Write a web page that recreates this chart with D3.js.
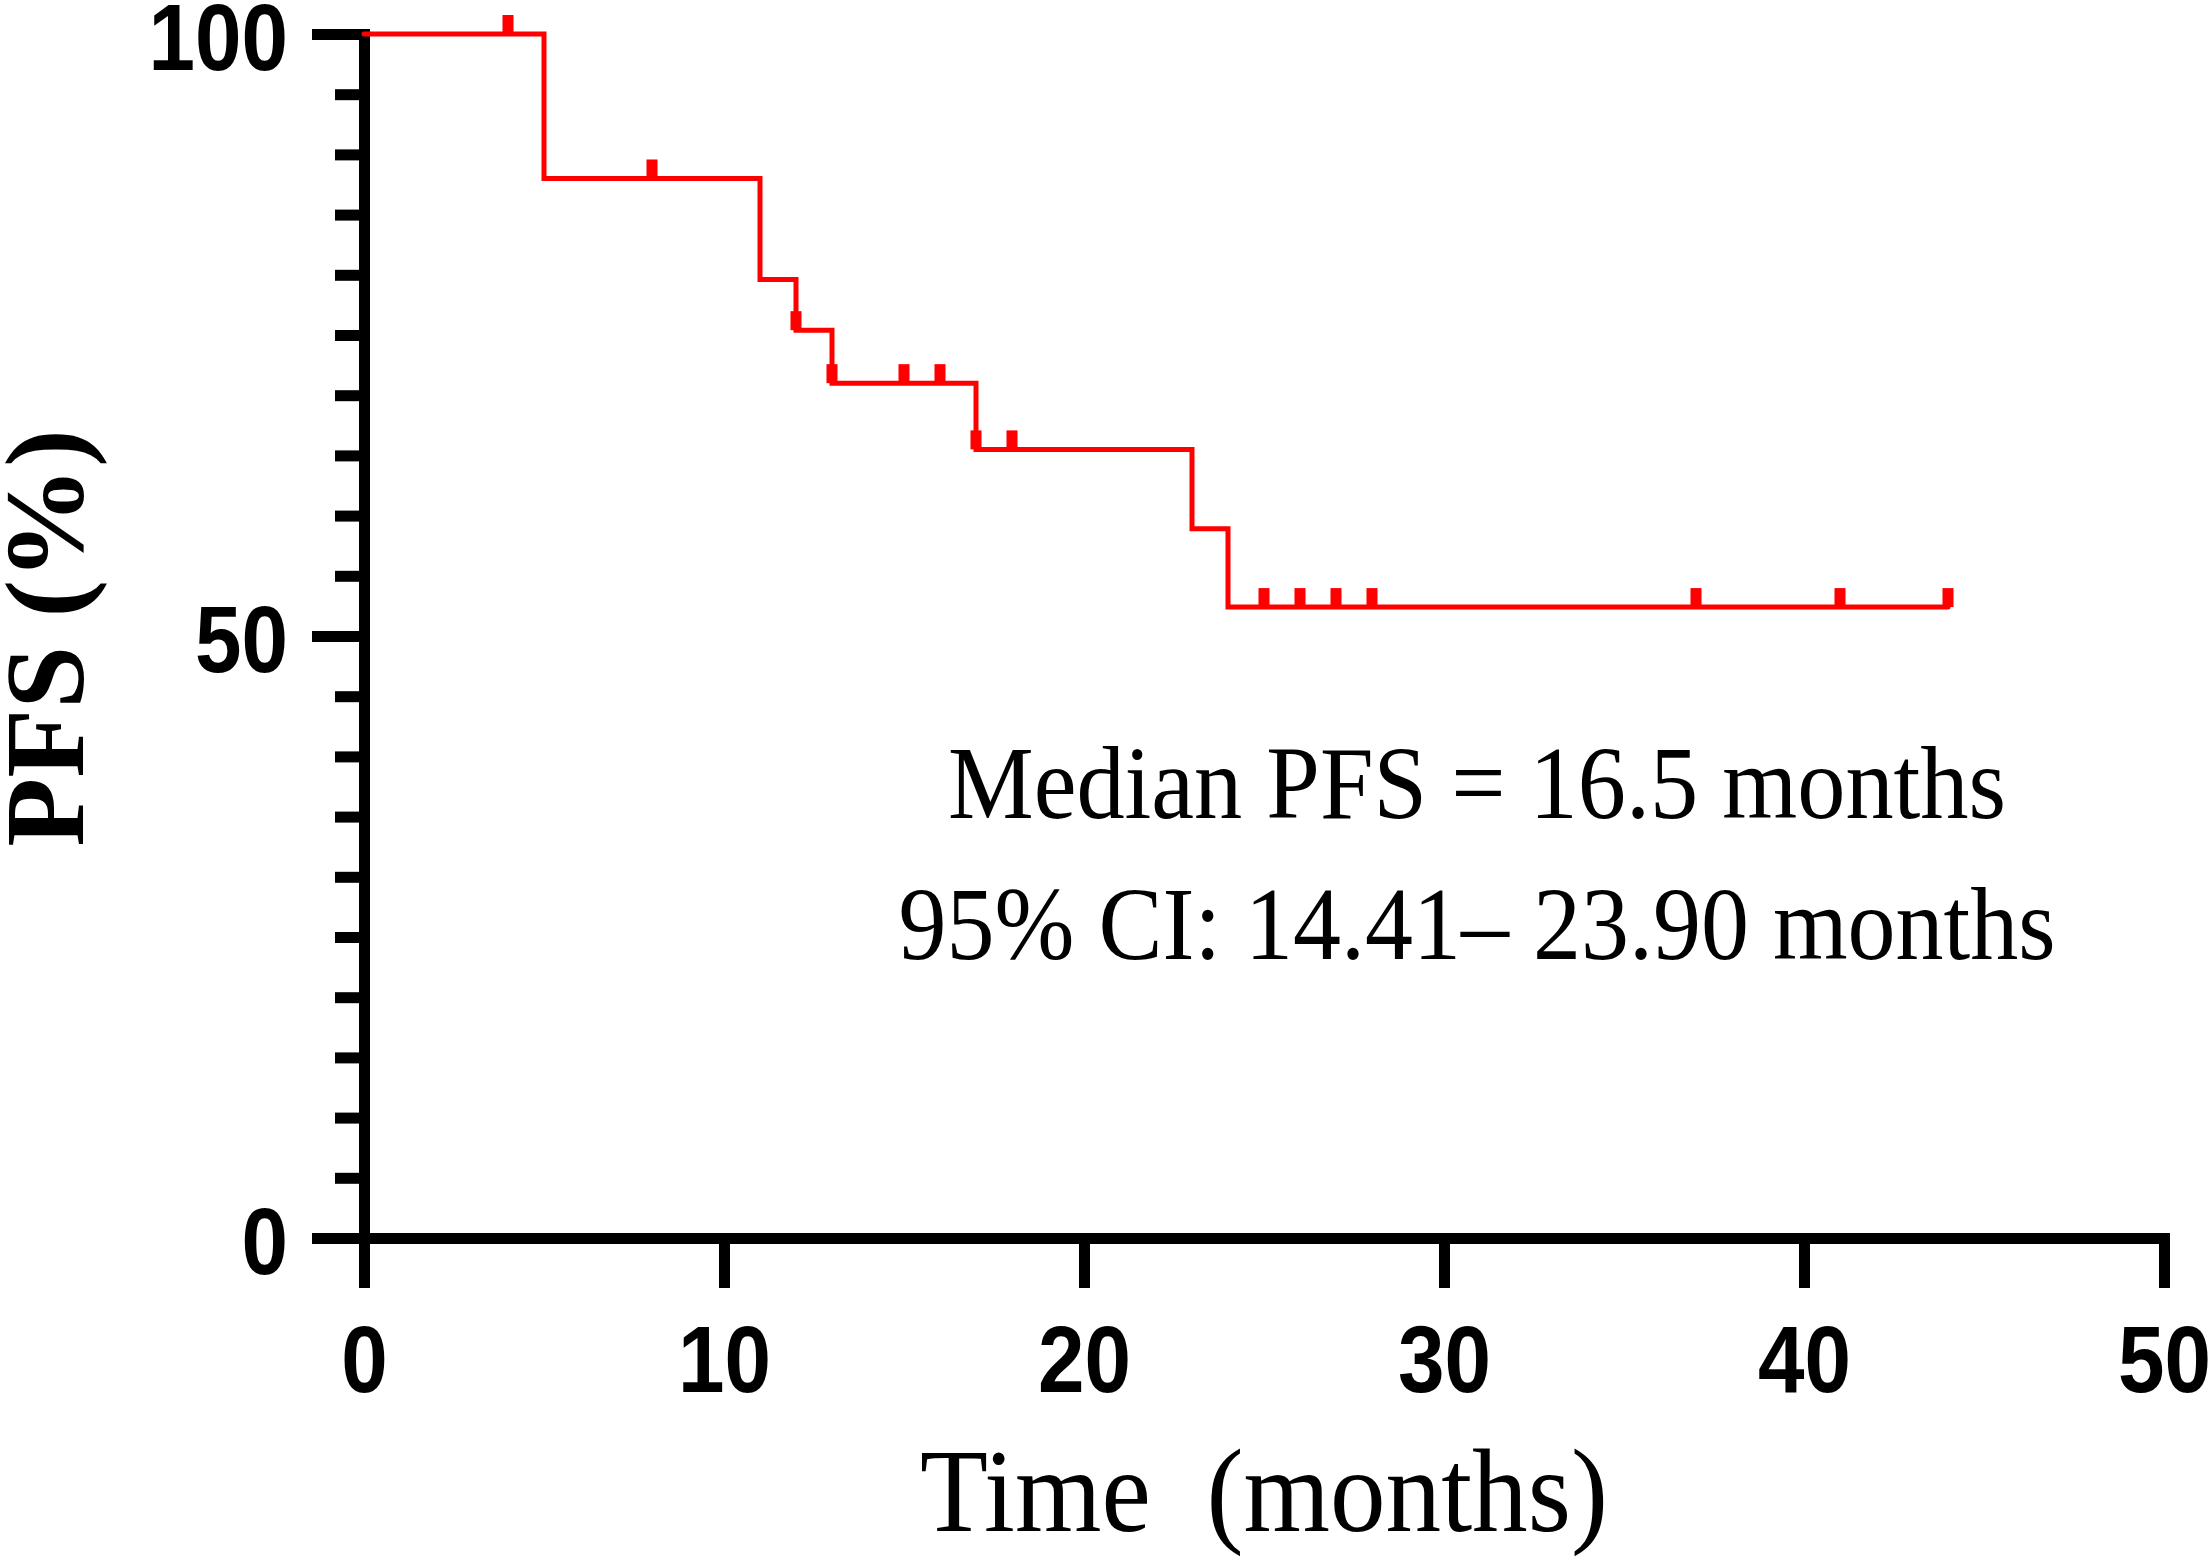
<!DOCTYPE html>
<html lang="en">
<head>
    <meta charset="UTF-8">
    <title>PFS Kaplan-Meier</title>
    <script src="https://d3js.org/d3.v7.min.js"></script>
    <style>
        body { margin: 0; background: white; }
        .axis path, .axis line { stroke: black; stroke-width: 11; }
        .axis path { stroke-linecap: square; }
        .axis text { font-family: "Liberation Sans", Arial, sans-serif; font-weight: bold; font-size: 95px; fill: black; }
        .serif { font-family: "Liberation Serif", "Times New Roman", serif; fill: black; }
    </style>
</head>
<body>
    <svg id="chart" width="2212" height="1562"></svg>

    <script>
        // step curve: time (months) where survival drops, and level after drop
        const stepTimes = [0, 5, 11, 12, 13, 17, 23, 24, 44];
        const stepLevels = [100, 88.0, 79.6, 75.4, 71.0, 65.5, 58.9, 52.4, 52.4];
        // censored observations (months)
        const censorTimes = [4, 8, 12, 13, 15, 16, 17, 18, 25, 26, 27, 28, 37, 41, 44];

        const xTicks = [0, 10, 20, 30, 40, 50];
        const yTicks = [0, 50, 100];
        const yMinorTicks = [5, 10, 15, 20, 25, 30, 35, 40, 45, 55, 60, 65, 70, 75, 80, 85, 90, 95];

        const annotation = ["Median PFS = 16.5 months", "95% CI: 14.41\u2013 23.90 months"];

        const svg = d3.select("#chart");

        const x = d3.scaleLinear().domain([0, 50]).range([364, 2164]);
        const y = d3.scaleLinear().domain([0, 100]).range([1238, 34]);

        // survival level at time t (value of the step curve)
        function levelAt(t) {
            let lvl = stepLevels[0];
            stepTimes.forEach((s, i) => { if (s <= t) lvl = stepLevels[i]; });
            return lvl;
        }

        // narrow the bold digits a bit, like the original condensed face
        function squeeze(g) {
            g.selectAll("text")
                .attr("textLength", d => String(d).length * 46.5)
                .attr("lengthAdjust", "spacingAndGlyphs");
        }

        // minor y ticks
        svg.append("g")
            .attr("class", "axis")
            .attr("transform", `translate(${x(0)},0)`)
            .call(d3.axisLeft(y).tickValues(yMinorTicks).tickSize(29).tickFormat(""))
            .call(g => g.select(".domain").remove());

        // y axis
        svg.append("g")
            .attr("class", "axis")
            .attr("transform", `translate(${x(0)},0)`)
            .call(d3.axisLeft(y).tickValues(yTicks).tickSize(52).tickSizeOuter(0).tickPadding(24))
            .call(g => g.selectAll("text").attr("dy", "0.37em"))
            .call(squeeze);

        // x axis
        svg.append("g")
            .attr("class", "axis")
            .attr("transform", `translate(0,${y(0)})`)
            .call(d3.axisBottom(x).tickValues(xTicks).tickSize(50).tickSizeOuter(0).tickPadding(37))
            .call(g => g.selectAll("text").attr("dy", "0.71em"))
            .call(squeeze);

        // KM curve
        const line = d3.line()
            .x((d, i) => x(stepTimes[i]))
            .y(d => y(d))
            .curve(d3.curveStepAfter);

        svg.append("path")
            .datum(stepLevels)
            .attr("d", line)
            .attr("fill", "none")
            .attr("stroke", "#ff0000")
            .attr("stroke-width", 5)
            .attr("stroke-linecap", "round");

        // censor marks
        svg.selectAll(".censor")
            .data(censorTimes)
            .enter().append("rect")
            .attr("class", "censor")
            .attr("x", d => x(d) - 5.5)
            .attr("y", d => y(levelAt(d)) - 19)
            .attr("width", 11)
            .attr("height", 19)
            .attr("fill", "#ff0000");

        // annotation
        svg.append("text")
            .attr("class", "serif")
            .attr("x", 1477).attr("y", 818)
            .attr("text-anchor", "middle")
            .attr("font-size", 103)
            .attr("textLength", 1058)
            .attr("lengthAdjust", "spacingAndGlyphs")
            .text(annotation[0]);

        svg.append("text")
            .attr("class", "serif")
            .attr("x", 1477).attr("y", 959)
            .attr("text-anchor", "middle")
            .attr("font-size", 103)
            .attr("textLength", 1157)
            .attr("lengthAdjust", "spacingAndGlyphs")
            .text(annotation[1]);

        // axis titles
        svg.append("text")
            .attr("class", "serif")
            .attr("x", 1264).attr("y", 1531)
            .attr("text-anchor", "middle")
            .attr("font-size", 118)
            .attr("textLength", 688)
            .attr("lengthAdjust", "spacingAndGlyphs")
            .style("white-space", "pre")
            .text("Time  (months)");

        svg.append("text")
            .attr("class", "serif")
            .attr("transform", "translate(83,638) rotate(-90)")
            .attr("text-anchor", "middle")
            .attr("font-size", 113)
            .attr("font-weight", "bold")
            .text("PFS (%)");
    </script>
</body>
</html>
